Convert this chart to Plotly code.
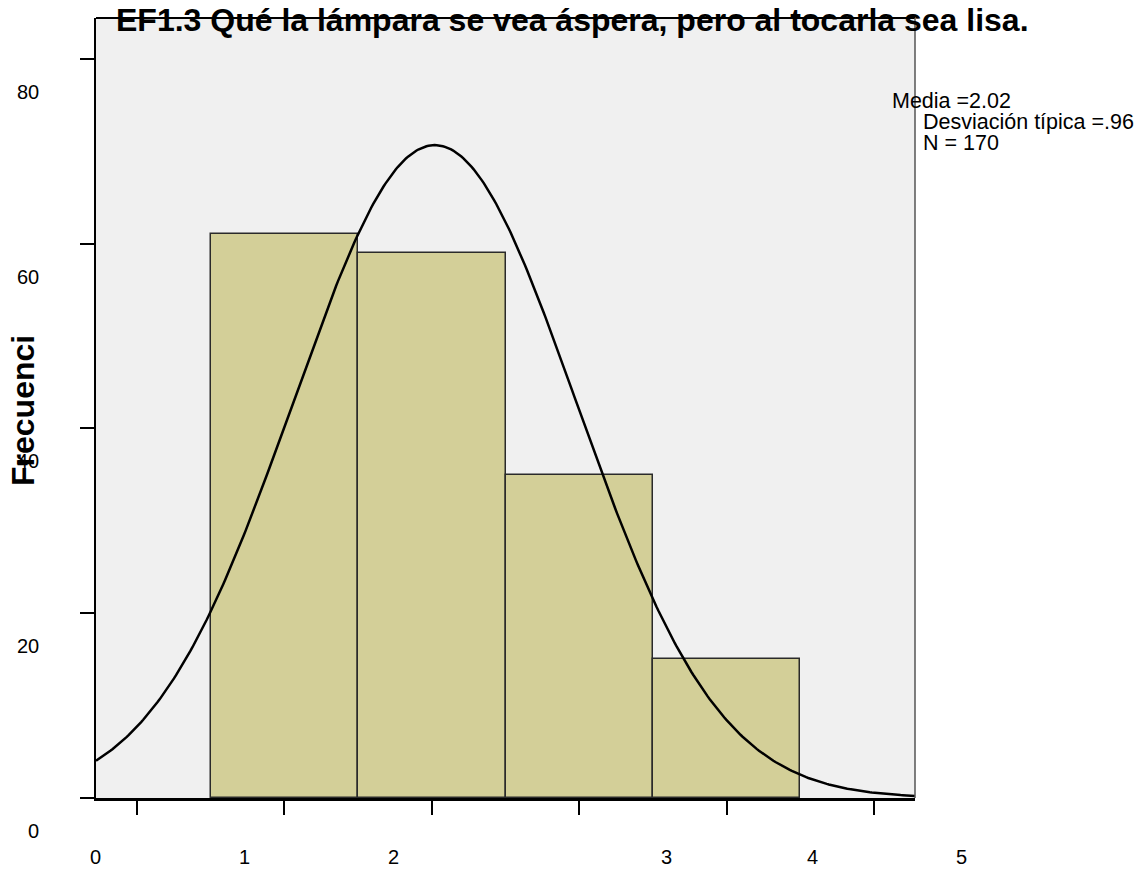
import numpy as np
import plotly.graph_objects as go

# ---- data ----
categories = [1, 2, 3, 4]
counts = [61, 59, 35, 15]
mean_val = 2.02
sd_val = 0.96
n_val = 170
bin_width = 1.0

x_tick_vals = [0, 1, 2, 3, 4, 5]
x_tick_text = ["0", "1", "2", "3", "4", "5"]
y_tick_vals = [0, 20, 40, 60, 80]
y_tick_text = ["0", "20", "40", "60", "80"]

title_text = "EF1.3 Qué la lámpara se vea áspera, pero al tocarla sea lisa."
y_title = "Frecuenci"
stats_lines = ["Media =2.02", "Desviación típica =.96", "N = 170"]

# ---- layout / style (pixels) ----
# the page body adds an 8px offset, so the figure is 8px smaller than the window
W, H = 1138, 864
L, R, T, B = 88, 231, 10, 74
x_range = [-0.278, 5.278]
y_range = [0, 84.4]
x_label_shift = [-41, -40, -38, 87, 86, 87]   # the odd label placement in the original
FONT = "Liberation Sans, Arial, sans-serif"

# fitted normal curve from the stated statistics
xc = np.linspace(x_range[0], x_range[1], 400)
yc = n_val * bin_width / (sd_val * np.sqrt(2 * np.pi)) * np.exp(-0.5 * ((xc - mean_val) / sd_val) ** 2)

fig = go.Figure()
fig.add_trace(go.Bar(
    x=categories, y=counts, width=bin_width,
    marker=dict(color="#d3cf98", line=dict(color="#2a2a2a", width=1.5)),
    hoverinfo="x+y", showlegend=False,
))
fig.add_trace(go.Scatter(
    x=xc, y=yc, mode="lines", line=dict(color="black", width=2.5),
    hoverinfo="skip", showlegend=False,
))

annotations = []
# title
annotations.append(dict(
    text="<b>" + title_text + "</b>", xref="paper", yref="paper", x=0, y=1,
    xanchor="left", yanchor="middle", xshift=18, yshift=-2, showarrow=False,
    font=dict(family=FONT, size=32, color="black"),
))
# y title
annotations.append(dict(
    text="<b>" + y_title + "</b>", xref="paper", yref="paper", x=0,
    y=(798 - 411) / 780, xanchor="center", yanchor="middle", xshift=-73,
    textangle=-90, showarrow=False, font=dict(family=FONT, size=32, color="black"),
))
# y tick labels (shifted below their ticks, as in the original)
for v, t in zip(y_tick_vals, y_tick_text):
    annotations.append(dict(
        text=t, xref="paper", yref="y", x=0, y=v, xanchor="right", yanchor="middle",
        xshift=-55, yshift=-33, showarrow=False, font=dict(family=FONT, size=20, color="black"),
    ))
# x tick labels
for v, t, s in zip(x_tick_vals, x_tick_text, x_label_shift):
    annotations.append(dict(
        text=t, xref="x", yref="paper", x=v, y=0, xanchor="center", yanchor="middle",
        xshift=s, yshift=-59, showarrow=False, font=dict(family=FONT, size=20, color="black"),
    ))
# stats box
stat_pos = [(-25, -83), (6, -104), (6, -125)]
for line, (dx, dy) in zip(stats_lines, stat_pos):
    annotations.append(dict(
        text=line, xref="paper", yref="paper", x=1, y=1, xanchor="left", yanchor="middle",
        xshift=dx, yshift=dy, showarrow=False, font=dict(family=FONT, size=21.5, color="black"),
    ))

fig.update_layout(
    width=W, height=H,
    margin=dict(l=L, r=R, t=T, b=B, pad=0),
    paper_bgcolor="white", plot_bgcolor="#f0f0f0",
    bargap=0, showlegend=False,
    annotations=annotations,
    shapes=[
        dict(type="line", xref="paper", yref="paper", x0=0, x1=1, y0=1, y1=1,
             line=dict(color="black", width=2)),
        dict(type="line", xref="paper", yref="paper", x0=1, x1=1, y0=0, y1=1,
             line=dict(color="#555555", width=1.5)),
    ],
)
fig.update_xaxes(
    range=x_range, tickvals=x_tick_vals, showticklabels=False,
    ticks="outside", ticklen=14, tickwidth=2, tickcolor="black",
    showline=True, linecolor="black", linewidth=3, showgrid=False, zeroline=False,
)
fig.update_yaxes(
    range=y_range, tickvals=y_tick_vals, showticklabels=False,
    ticks="outside", ticklen=14, tickwidth=2, tickcolor="black",
    showline=True, linecolor="black", linewidth=2, showgrid=False, zeroline=False,
)

fig.write_html("out.html")
